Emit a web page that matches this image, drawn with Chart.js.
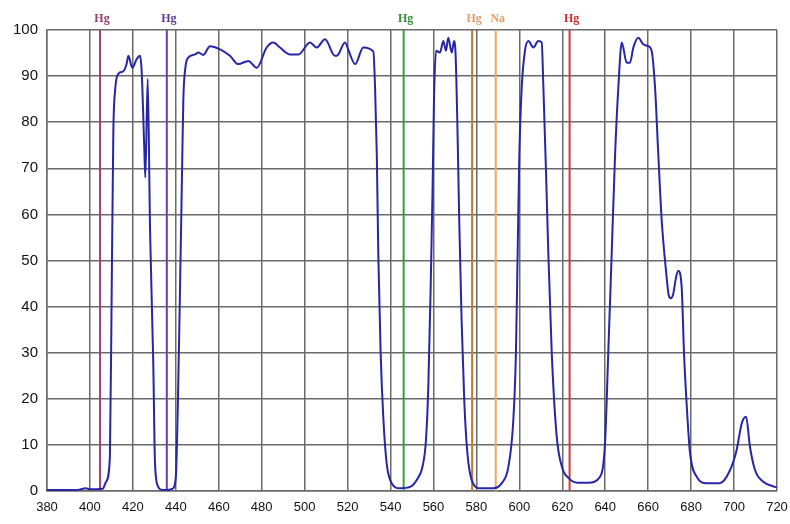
<!DOCTYPE html>
<html>
<head>
<meta charset="utf-8">
<script src="https://cdn.jsdelivr.net/npm/chart.js@4/dist/chart.umd.min.js"></script>
<style>
  html, body { margin: 0; padding: 0; background: #fff; }
  #wrap { width: 790px; height: 524px; position: relative; }
</style>
</head>
<body>
<div id="wrap"><canvas id="chart"></canvas></div>
<script>
// transmission curve (nm, %)
const wavelength = [
  380, 385, 390, 395, 398, 400, 403, 406, 407.5, 409.3, 410.1, 410.9, 411.7, 413.2, 415.4, 417, 417.9,
  419.7, 421.8, 423.3, 424.1, 425.3, 425.8, 426.9, 428, 429.5, 430.3, 431.7, 433, 436, 438.5,
  440, 441, 442, 443, 443.5, 444.5, 445.8, 448.9, 450.5, 452.8, 455.9, 460.6, 465.2, 469.1,
  473.8, 477.7, 482.3, 485.4, 488.5, 493.2, 497.1, 502.5, 505.6, 509.5, 514.1, 515.5, 518.8,
  520.5, 523.5, 527.3, 532, 532.8, 533.6, 534.3, 535.4, 536.7, 538.2, 540.5, 544.4, 549.1,
  552.5, 555, 556.5, 557.6, 558.7, 559.6, 560.2, 561.2, 563, 564.6, 565.8, 566.9, 568.5, 569.6,
  570.3, 571.1, 572, 573.1, 574.4, 575.8, 577.8, 581.7, 587.9, 591.8, 594.9, 597.2, 598.4,
  599.2, 600, 601.1, 602.6, 604.2, 606.5, 608.8, 610.4, 611.2, 612.4, 613.5, 615.1, 617.4,
  620, 623, 627, 632, 637.6, 639.9, 641.4, 643, 644.6, 646.1, 647.7, 650, 651.5, 653.1,
  655.4, 657.7, 660, 661.6, 663.2, 664.7, 666.3, 668.3, 669.6, 670.6, 671.6, 673, 674, 675.6,
  676.7, 677.9, 679.5, 682.6, 687.3, 693.4, 698.1, 701.2, 703.6, 705.6, 707.4, 709.8,
  713.6, 719, 720
];
const transmission = [
  0.2, 0.2, 0.2, 0.3, 0.6, 0.4, 0.4, 0.5, 2, 7.4, 42, 78, 86.8, 90.5, 91, 92.5, 94.4,
  91.8, 93.7, 94.4, 91, 74.5, 68, 89.4, 56.5, 27.7, 6, 1, 0.3, 0.2, 0.5,
  3, 20, 45, 72, 85, 92, 94, 94.7, 95.1, 94.6, 96.5, 95.8, 94.4, 92.6,
  93.3, 91.8, 96.2, 97.3, 96.2, 94.7, 94.7, 97.3, 96.2, 98, 94.4, 94.6, 97.3,
  95.5, 92.6, 96.2, 95.3, 87.5, 73.1, 51.4, 29.8, 15.4, 6, 1.7, 0.6, 0.9,
  2.6, 5.5, 11, 22.6, 44.2, 65.9, 84, 95.5, 95.1, 97.6, 95.5, 98.3, 95.1, 97.6,
  94.7, 80.3, 58.7, 37, 19, 8.2, 2.4, 0.6, 0.6, 1.7, 5.3, 15.4, 29.8,
  51.4, 73.1, 87.5, 95.5, 97.6, 96.2, 97.6, 97.3, 87.5, 69.5, 51.4, 29.8, 11.8,
  5, 2.8, 1.8, 1.8, 3.1, 10.4, 29.8, 51.4, 73.1, 87.5, 97.3, 92.9, 92.9, 96.2,
  98.3, 96.9, 96.5, 95.5, 87.5, 73.1, 58.7, 47.8, 42.4, 41.8, 42.6, 46.4, 47.8, 44.2,
  29.8, 19, 8.2, 3.1, 1.7, 1.7, 4.5, 8.9, 14.7, 16.1, 9.6, 4.5,
  2, 0.9, 0.8
];

// emission lines marked on top
const lineNames = ['Hg', 'Hg', 'Hg', 'Hg', 'Na', 'Hg'];
const lineWavelengths = [404.7, 435.8, 546.1, 578, 589, 623.4];
const lineColors = ['#a0407c', '#6a3fa8', '#3d9a3d', '#c47a2c', '#f0a860', '#c83c3c'];
const labelColors = ['#93406f', '#5e3c9c', '#3a8a3a', '#e0a070', '#e8a060', '#c83030'];

const xTicks = { min: 380, max: 720, step: 20 };
const yTicks = { min: 0, max: 100, step: 10 };

const curve = wavelength.map((w, i) => ({ x: w, y: transmission[i] }));

const lineSets = lineWavelengths.map((w, i) => ({
    data: [{ x: w, y: yTicks.min }, { x: w, y: yTicks.max }],
    borderColor: lineColors[i],
    borderWidth: 2,
    pointRadius: 0,
    order: 2,
}));

const lineLabels = {
    id: 'lineLabels',
    afterDraw(chart) {
        const ctx = chart.ctx;
        const x = chart.scales.x;
        ctx.save();
        ctx.font = 'bold 12px "Liberation Serif", serif';
        ctx.textAlign = 'center';
        ctx.textBaseline = 'middle';
        lineWavelengths.forEach((w, i) => {
            ctx.fillStyle = labelColors[i];
            ctx.fillText(lineNames[i], x.getPixelForValue(w) + 2, chart.chartArea.top - 11);
        });
        ctx.restore();
    },
};

const gridColor = '#6a6a6a';

new Chart(document.getElementById('chart'), {
    type: 'line',
    data: {
        datasets: [
            {
                data: curve,
                borderColor: '#2626a6',
                borderWidth: 2,
                pointRadius: 0,
                cubicInterpolationMode: 'monotone',
                order: 0,
            },
            ...lineSets,
        ],
    },
    options: {
        responsive: true,
        maintainAspectRatio: false,
        animation: false,
        layout: { padding: { top: 30, right: 13, left: 0, bottom: 0 } },
        plugins: {
            legend: { display: false },
            tooltip: { enabled: false },
        },
        scales: {
            x: {
                type: 'linear',
                min: xTicks.min,
                max: xTicks.max,
                afterFit: (scale) => {
                    scale.height = 33;
                    scale.paddingLeft = 0;
                    scale.paddingRight = 0;
                },
                ticks: {
                    stepSize: xTicks.step,
                    color: '#111',
                    padding: 9,
                    font: { family: '"Liberation Sans", Arial, sans-serif', size: 13 },
                },
                grid: { color: gridColor, lineWidth: 1.5, drawTicks: false },
                border: { color: gridColor, width: 1.5 },
            },
            y: {
                min: yTicks.min,
                max: yTicks.max,
                afterFit: (scale) => { scale.width = 47; },
                ticks: {
                    stepSize: yTicks.step,
                    color: '#111',
                    padding: 9,
                    font: { family: '"Liberation Sans", Arial, sans-serif', size: 15 },
                },
                grid: { color: gridColor, lineWidth: 1.5, drawTicks: false },
                border: { color: gridColor, width: 1.5 },
            },
        },
    },
    plugins: [lineLabels],
});
</script>
</body>
</html>
